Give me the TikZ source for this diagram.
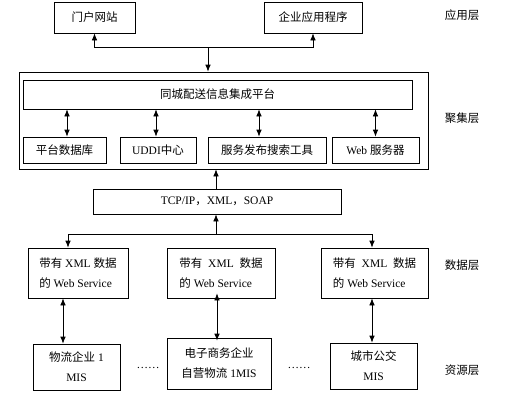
\documentclass[tikz,border=0pt]{standalone}
\usepackage{fontspec}
\setmainfont{Liberation Serif}
\newfontfamily\cjk{Noto Sans CJK SC}
\usetikzlibrary{arrows.meta}
\begin{document}
\begin{tikzpicture}[x=1pt, y=-1pt, line width=0.7pt,
    every node/.style={font=\fontsize{11.5}{20}\selectfont},
    box/.style={draw, inner sep=0pt},
    arr/.style={-{Latex[length=7pt,width=5.5pt]}},
    darr/.style={{Latex[length=7pt,width=5.5pt]}-{Latex[length=7pt,width=5.5pt]}}]
    \useasboundingbox (0,0) rectangle (520,415);

    \node [box, minimum width=81pt, minimum height=31pt] (portal) at (94.5,17.5) {\cjk 门户网站};
    \node [box, minimum width=98pt, minimum height=31pt] (apps) at (313,17.5) {\cjk 企业应用程序};
    \coordinate (hub) at (208,47);
    \draw [arr] (hub) -| (portal.south);
    \draw [arr] (hub) -| (apps.south);

    \node [box, minimum width=409pt, minimum height=97pt] (core) at (223.5,120.5) {};
    \draw [arr] (hub) -- (hub |- core.north);
    \node [box, minimum width=389pt, minimum height=29pt] (platform) at (217.5,94.5) {\cjk 同城配送信息集成平台};

    \node [box, minimum width=83pt, minimum height=26pt] (db) at (64.5,150) {\cjk 平台数据库};
    \node [box, minimum width=76pt, minimum height=26pt] (uddi) at (158,150) {UDDI{\cjk 中心}};
    \node [box, minimum width=118pt, minimum height=26pt] (tool) at (267,150) {\cjk 服务发布搜索工具};
    \node [box, minimum width=87pt, minimum height=26pt] (web) at (375.5,150) {Web {\cjk 服务器}};
    \draw [darr] ([xshift=2.5pt]db.north) -- ([xshift=2.5pt]db.north |- platform.south);
    \draw [darr] ([xshift=-2pt]uddi.north) -- ([xshift=-2pt]uddi.north |- platform.south);
    \draw [darr] ([xshift=-8pt]tool.north) -- ([xshift=-8pt]tool.north |- platform.south);
    \draw [darr] (web.north) -- (web.north |- platform.south);

    \node [box, minimum width=248pt, minimum height=25pt] (tcp) at (217,201.5) {TCP/IP{\cjk ，}XML{\cjk ，}SOAP};
    \draw [arr] ([xshift=-1pt]tcp.north) -- ([xshift=-1pt]tcp.north |- core.south);

    \node [box, minimum width=100pt, minimum height=50pt, align=left] (ws1) at (78,273) {{\cjk 带有} XML {\cjk 数据}\\{\cjk 的} Web Service};
    \node [box, minimum width=108pt, minimum height=50pt, align=left] (ws2) at (221,273) {{\cjk 带有}\ \ XML\ \ {\cjk 数据}\\{\cjk 的} Web Service\hspace{14pt}};
    \node [box, minimum width=107pt, minimum height=50pt, align=left] (ws3) at (374.5,273) {{\cjk 带有}\ \ XML\ \ {\cjk 数据}\\{\cjk 的} Web Service\hspace{14pt}};
    \coordinate (hub2) at (216,234);
    \draw [arr] (hub2) -- (hub2 |- tcp.south);
    \draw [arr] (hub2) -| ([xshift=-10pt]ws1.north);
    \draw [arr] (hub2) -| ([xshift=-2.5pt]ws3.north);

    \node [box, minimum width=87pt, minimum height=46pt, align=center] (mis1) at (76.5,367) {{\cjk 物流企业} 1\\MIS};
    \node [box, minimum width=104pt, minimum height=51pt, align=center] (mis2) at (219,363.5) {{\cjk 电子商务企业}\\{\cjk 自营物流} 1MIS};
    \node [box, minimum width=87pt, minimum height=46pt, align=center] (mis3) at (373.5,366) {{\cjk 城市公交}\\MIS};
    \draw [darr] ([xshift=-13.5pt]mis1.north) -- ([xshift=-13.5pt]mis1.north |- ws1.south);
    \draw [darr] ([yshift=-3pt]mis2.north -| tcp.north) -- ([yshift=5pt]ws2.south -| tcp.north);
    \draw [darr] ([xshift=-1.5pt]mis3.north) -- ([xshift=-1.5pt]mis3.north |- ws3.south);

    \node (dots1) at (148,368) {……};
    \node (dots2) at (299,368) {……};

    \node (lapp) at (462,15) {\cjk 应用层};
    \node (lagg) at (462,118) {\cjk 聚集层};
    \node (ldata) at (462,265) {\cjk 数据层};
    \node (lres) at (462,370) {\cjk 资源层};
\end{tikzpicture}
\end{document}
